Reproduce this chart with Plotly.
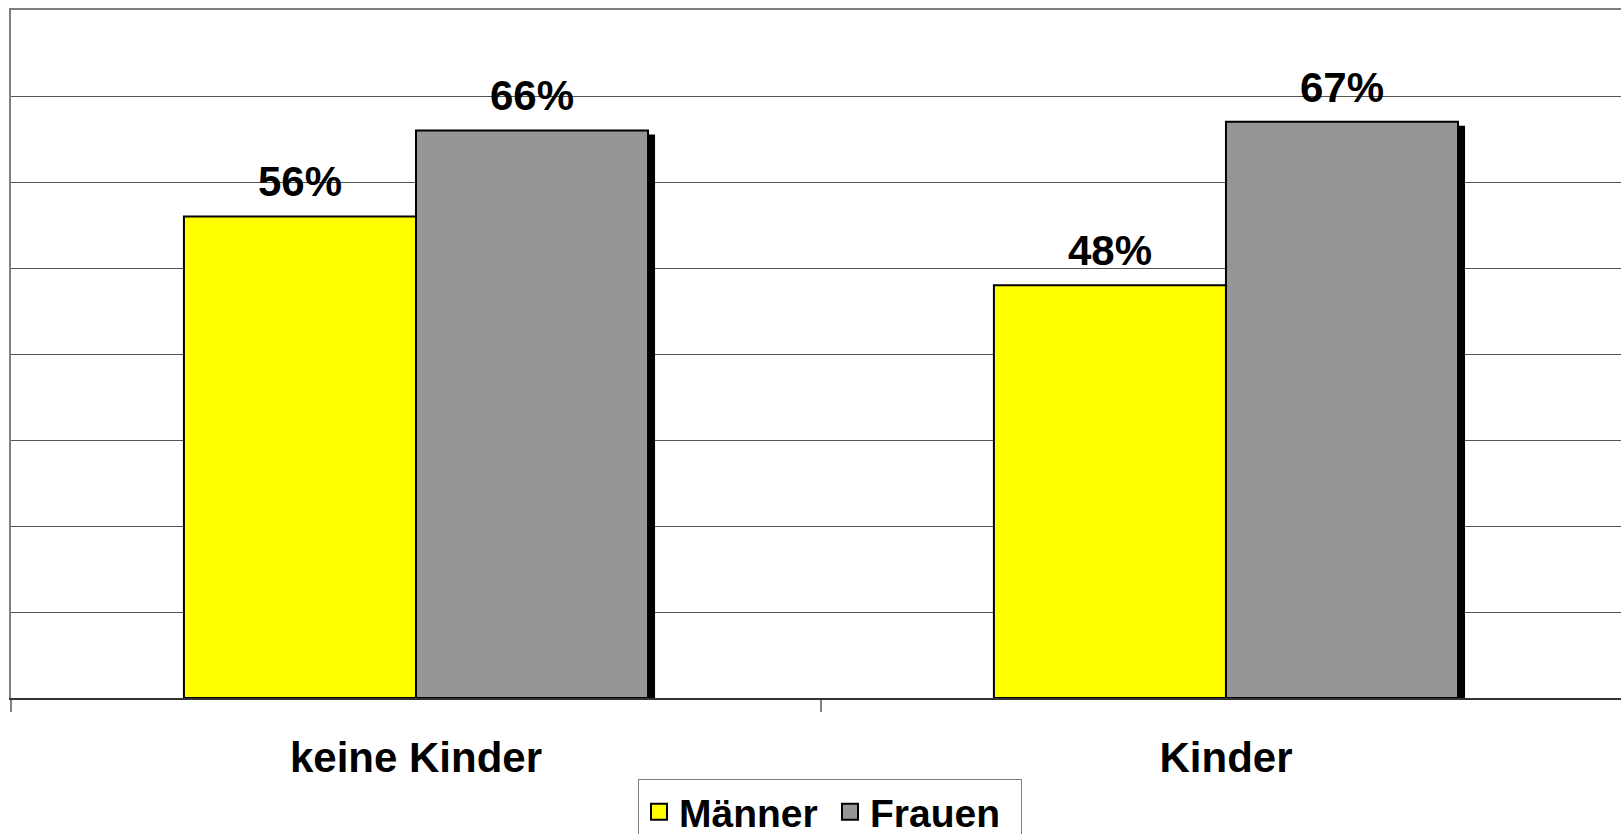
import plotly.graph_objects as go

categories = ["keine Kinder", "Kinder"]
series_names = ["Männer", "Frauen"]
maenner = [0.56, 0.48]
frauen = [0.66, 0.67]
series_values = [maenner, frauen]
colors = ["#FFFF00", "#969696"]

W, H = 1621, 834
ML, MT, MB = 11, 10, 136
Y_MAX = 0.8
X_END = 1.4877
SHADOW_DX, SHADOW_DY = 7, 4
LABEL_LIFT = 8

px_per_x = (W - ML) / (X_END + 0.5)
px_per_y = (H - MT - MB) / Y_MAX

FONT = "Liberation Sans, Arial, sans-serif"

fig = go.Figure()

# shadows (base axes, drawn below everything)
for name, vals in zip(series_names, series_values):
    fig.add_trace(go.Bar(
        x=categories, y=vals, name=name, showlegend=False,
        marker=dict(color="black", line=dict(width=0)),
        xaxis="x", yaxis="y", hoverinfo="skip",
    ))

# main bars
for name, vals, col in zip(series_names, series_values, colors):
    fig.add_trace(go.Bar(
        x=categories, y=vals, name=name, showlegend=False,
        marker=dict(color=col, line=dict(color="black", width=2)),
        xaxis="x2", yaxis="y2",
    ))

# value labels (transparent carrier bars on a slightly lifted axis)
for name, vals in zip(series_names, series_values):
    fig.add_trace(go.Bar(
        x=categories, y=vals, name=name, showlegend=False,
        marker=dict(color="rgba(0,0,0,0)", line=dict(width=0)),
        texttemplate="%{y:.0%}", textposition="outside",
        textfont=dict(family=FONT, size=42, color="black", weight="bold"),
        cliponaxis=False, hoverinfo="skip",
        xaxis="x3", yaxis="y3",
    ))

# legend entries
for name, col in zip(series_names, colors):
    fig.add_trace(go.Scatter(
        x=[None], y=[None], mode="markers", name=name,
        marker=dict(symbol="square", size=16, color=col,
                    line=dict(color="black", width=2)),
        xaxis="x2", yaxis="y2",
    ))

fig.update_layout(
    width=W, height=H, autosize=False,
    margin=dict(l=ML, r=0, t=MT, b=MB, autoexpand=False),
    paper_bgcolor="white", plot_bgcolor="white",
    barmode="group", bargap=0.427, bargroupgap=0,
    showlegend=True,
    legend=dict(
        orientation="h", x=(830 - ML) / (W - ML), xanchor="center",
        yref="container", y=1 - 779 / H, yanchor="top",
        bordercolor="#808080", borderwidth=1, bgcolor="white",
        font=dict(family=FONT, size=39, color="black", weight="bold"),
        traceorder="normal", itemsizing="trace",
        entrywidth=146, entrywidthmode="pixels",
    ),
    xaxis=dict(
        type="category",
        range=[-0.5 - SHADOW_DX / px_per_x, X_END - SHADOW_DX / px_per_x],
        side="top", showline=True, linecolor="#808080", linewidth=2,
        showticklabels=False, ticks="", showgrid=False, zeroline=False,
    ),
    yaxis=dict(
        range=[SHADOW_DY / px_per_y, Y_MAX + SHADOW_DY / px_per_y],
        visible=False, showgrid=False, zeroline=False,
    ),
    xaxis2=dict(
        type="category", overlaying="x", range=[-0.5, X_END],
        showline=True, linecolor="#333333", linewidth=2,
        ticks="outside", tickson="boundaries", ticklen=12,
        tickcolor="#808080", tickwidth=2,
        tickfont=dict(family=FONT, size=42, color="black", weight="bold"),
        ticklabelstandoff=22,
        showgrid=False, zeroline=False,
    ),
    yaxis2=dict(
        overlaying="y", range=[0, Y_MAX], dtick=0.1,
        showgrid=True, gridcolor="#555555", gridwidth=1,
        showline=True, linecolor="#808080", linewidth=2,
        showticklabels=False, ticks="", zeroline=False,
    ),
    xaxis3=dict(
        type="category", overlaying="x", range=[-0.5, X_END],
        visible=False, showgrid=False, zeroline=False,
    ),
    yaxis3=dict(
        overlaying="y", range=[-LABEL_LIFT / px_per_y, Y_MAX - LABEL_LIFT / px_per_y],
        visible=False, showgrid=False, zeroline=False,
    ),
)

fig.write_html(
    "out.html",
    config={"displayModeBar": False},
    post_script="document.body.style.margin='0';document.body.style.overflow='hidden';",
)
